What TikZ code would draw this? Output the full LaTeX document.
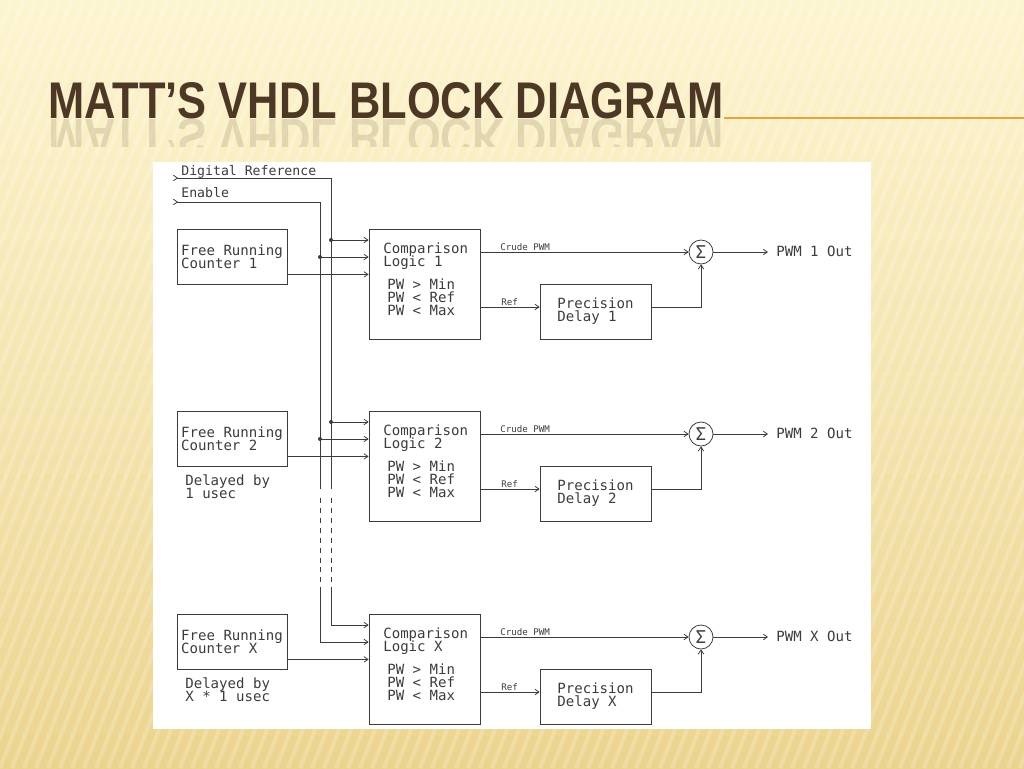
\documentclass[tikz,border=0pt]{standalone}
\usepackage{fontspec}
\usepackage{graphicx}
\newfontfamily\cadfont{DejaVu Sans Mono}
\newfontfamily\titlefont{Liberation Sans}
\usetikzlibrary{arrows.meta, positioning, calc}
\definecolor{wirec}{RGB}{60,60,60}
\definecolor{titlec}{RGB}{76,56,36}
\definecolor{rulec}{RGB}{232,160,64}
\definecolor{bgtop}{RGB}{253,245,208}
\definecolor{bgbot}{RGB}{236,212,142}
\setlength{\lineskiplimit}{-6pt}

\begin{document}
\begin{tikzpicture}[
    x=0.02cm, y=-0.02cm,
    box/.style={rectangle, draw=wirec, line width=0.45pt, fill=white, text=wirec, font=\cadfont\fontsize{8}{7.4}\selectfont, align=left, inner sep=0pt},
    cntbox/.style={box, minimum width=2.2cm, minimum height=1.1cm},
    cmpbox/.style={box, minimum width=2.22cm, minimum height=2.2cm},
    dlybox/.style={box, minimum width=2.22cm, minimum height=1.1cm},
    sumnode/.style={circle, draw=wirec, line width=0.45pt, minimum size=0.48cm, inner sep=0pt, text=wirec, font=\cadfont\fontsize{10}{10}\selectfont},
    txt/.style={font=\cadfont\fontsize{8}{7.4}\selectfont, align=left, inner sep=0pt, text=wirec},
    toptxt/.style={txt, font=\cadfont\fontsize{7.5}{7.4}\selectfont},
    tiny/.style={font=\cadfont\fontsize{5.2}{5}\selectfont, inner sep=0pt, text=wirec},
    wire/.style={draw=wirec, line width=0.45pt},
    arrow/.style={wire, -{Straight Barb[length=0.08cm, width=0.11cm]}},
    tap/.style={circle, fill=wirec, inner sep=0pt, minimum size=0.08cm}
]
\useasboundingbox (0,0) rectangle (1024,768);

% slide background
\shade[top color=bgtop, bottom color=bgbot] (0,0) rectangle (1024,768);
\foreach \s in {-300,-288,...,1024}
    \draw[white, opacity=0.2, line width=0.08cm] (\s,768) -- ++(300,-768);

% title
\draw[rulec, line width=1.1pt] (724,118) -- (1024,118);
\node[anchor=south west, inner sep=0pt, text=titlec] (title) at (48,119)
    {\resizebox{13.5cm}{0.72cm}{\titlefont\bfseries MATT’S VHDL BLOCK DIAGRAM}};
\begin{scope}
    \clip (40,119) rectangle (740,146);
    \node[anchor=north west, inner sep=0pt, text=titlec, opacity=0.14] (titlerefl) at (48,119)
        {\scalebox{1}[-1]{\resizebox{13.5cm}{0.72cm}{\titlefont\bfseries MATT’S VHDL BLOCK DIAGRAM}}};
\end{scope}

% drawing sheet
\fill[white] (153,162) rectangle (871,729);

% inputs
\coordinate (dref) at (173,178);
\coordinate (enab) at (173,202);
\node[toptxt, anchor=base west] (dreft) at (181,175) {Digital Reference};
\node[toptxt, anchor=base west] (enabt) at (181,197) {Enable};

% row 1
\node[cntbox] (cnt1) at (232,256.5) {Free Running\\Counter 1};
\node[cmpbox] (cmp1) at (424.5,284) {};
\node[txt, anchor=north west] (cmp1t) at (383,242)
    {Comparison\\Logic 1\\[6pt]\hspace*{0.08cm}PW > Min\\\hspace*{0.08cm}PW < Ref\\\hspace*{0.08cm}PW < Max};
\node[dlybox] (dly1) at (595.5,311.5) {Precision\\Delay 1};
\node[sumnode] (sum1) at (701,252) {Σ};
\node[txt, anchor=base west] (out1) at (776,256.5) {PWM 1 Out};
\node[tiny, anchor=base west] (crude1) at (500,250) {Crude PWM};
\node[tiny, anchor=base west] (ref1) at (501,305) {Ref};

% row 2
\node[cntbox] (cnt2) at (232,438.5) {Free Running\\Counter 2};
\node[txt, anchor=north west] (late2) at (185,474) {Delayed by\\1 usec};
\node[cmpbox] (cmp2) at (424.5,466) {};
\node[txt, anchor=north west] (cmp2t) at (383,424)
    {Comparison\\Logic 2\\[6pt]\hspace*{0.08cm}PW > Min\\\hspace*{0.08cm}PW < Ref\\\hspace*{0.08cm}PW < Max};
\node[dlybox] (dly2) at (595.5,493.5) {Precision\\Delay 2};
\node[sumnode] (sum2) at (701,434) {Σ};
\node[txt, anchor=base west] (out2) at (776,438.5) {PWM 2 Out};
\node[tiny, anchor=base west] (crude2) at (500,432) {Crude PWM};
\node[tiny, anchor=base west] (ref2) at (501,487) {Ref};

% row X
\node[cntbox] (cntX) at (232,641.5) {Free Running\\Counter X};
\node[txt, anchor=north west] (lateX) at (185,677) {Delayed by\\X * 1 usec};
\node[cmpbox] (cmpX) at (424.5,669) {};
\node[txt, anchor=north west] (cmpXt) at (383,627)
    {Comparison\\Logic X\\[6pt]\hspace*{0.08cm}PW > Min\\\hspace*{0.08cm}PW < Ref\\\hspace*{0.08cm}PW < Max};
\node[dlybox] (dlyX) at (595.5,696.5) {Precision\\Delay X};
\node[sumnode] (sumX) at (701,637) {Σ};
\node[txt, anchor=base west] (outX) at (776,641.5) {PWM X Out};
\node[tiny, anchor=base west] (crudeX) at (500,635) {Crude PWM};
\node[tiny, anchor=base west] (refX) at (501,690) {Ref};

% taps on the buses
\coordinate (tapR1) at (331,240);
\coordinate (tapE1) at (320,257);
\coordinate (tapR2) at (331,422);
\coordinate (tapE2) at (320,439);
\coordinate (cornR) at (331,625);
\coordinate (cornE) at (320,642);
\coordinate (gapR1) at (331,489);
\coordinate (gapR2) at (331,587);
\coordinate (gapE1) at (320,489);
\coordinate (gapE2) at (320,587);

% buses
\draw[wire, {Straight Barb[reversed, length=0.08cm, width=0.11cm]}-] (dref) -| (gapR1);
\draw[wire, {Straight Barb[reversed, length=0.08cm, width=0.11cm]}-] (enab) -| (gapE1);
\draw[wire, dash pattern=on 0.1cm off 0.1cm] ([yshift=-0.17cm]gapR1) -- ([yshift=0.05cm]gapR2);
\draw[wire, dash pattern=on 0.1cm off 0.1cm] ([yshift=-0.17cm]gapE1) -- ([yshift=0.05cm]gapE2);
\draw[arrow] (gapR2) |- (cornR -| cmpX.west);
\draw[arrow] (gapE2) |- (cornE -| cmpX.west);

% row 1 connectors
\draw[arrow] (tapR1) -- (tapR1 -| cmp1.west);
\draw[arrow] (tapE1) -- (tapE1 -| cmp1.west);
\node[tap] (dotR1) at (tapR1) {};
\node[tap] (dotE1) at (tapE1) {};
\draw[arrow] ([yshift=0.2cm]cnt1.south east) -- ([yshift=0.2cm]cnt1.south east -| cmp1.west);
\draw[arrow] (cmp1.east |- sum1) -- (sum1.west);
\draw[arrow] (cmp1.east |- 0,307) -- (dly1.west |- 0,307);
\draw[arrow] (dly1.east |- 0,307) -| (sum1.south);
\draw[arrow, shorten >=0.16cm] (sum1.east) -- (out1.west |- sum1);

% row 2 connectors
\draw[arrow] (tapR2) -- (tapR2 -| cmp2.west);
\draw[arrow] (tapE2) -- (tapE2 -| cmp2.west);
\node[tap] (dotR2) at (tapR2) {};
\node[tap] (dotE2) at (tapE2) {};
\draw[arrow] ([yshift=0.2cm]cnt2.south east) -- ([yshift=0.2cm]cnt2.south east -| cmp2.west);
\draw[arrow] (cmp2.east |- sum2) -- (sum2.west);
\draw[arrow] (cmp2.east |- 0,489) -- (dly2.west |- 0,489);
\draw[arrow] (dly2.east |- 0,489) -| (sum2.south);
\draw[arrow, shorten >=0.16cm] (sum2.east) -- (out2.west |- sum2);

% row X connectors
\draw[arrow] ([yshift=0.2cm]cntX.south east) -- ([yshift=0.2cm]cntX.south east -| cmpX.west);
\draw[arrow] (cmpX.east |- sumX) -- (sumX.west);
\draw[arrow] (cmpX.east |- 0,692) -- (dlyX.west |- 0,692);
\draw[arrow] (dlyX.east |- 0,692) -| (sumX.south);
\draw[arrow, shorten >=0.16cm] (sumX.east) -- (outX.west |- sumX);
\end{tikzpicture}
\end{document}
